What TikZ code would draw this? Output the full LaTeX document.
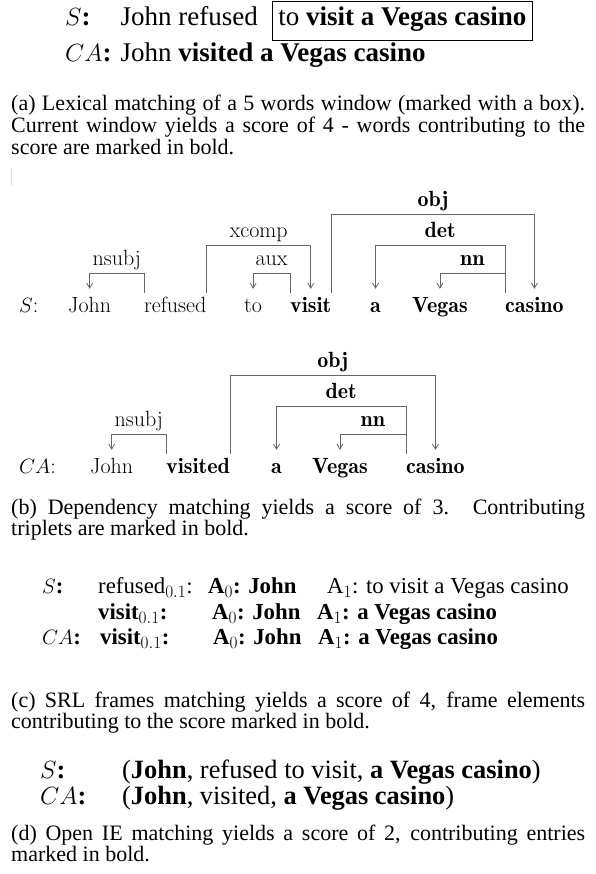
\documentclass[tikz,border=0pt]{standalone}
\usepackage{amsmath}
\usepackage[no-math]{fontspec}
\setmainfont{Liberation Serif}
\usetikzlibrary{arrows.meta,positioning}
\newcommand{\cmwords}{\fontfamily{lmr}\selectfont}
\newcommand{\nohyph}{\hyphenpenalty=10000\relax}

\begin{document}
\begin{tikzpicture}[x=1pt,y=1pt,
  big/.style={font=\fontsize{26.4pt}{31pt}\selectfont,anchor=base west,inner sep=0pt},
  txt/.style={font=\fontsize{22.8pt}{26pt}\selectfont,anchor=base west,inner sep=0pt},
  capt/.style={font=\fontsize{22pt}{21.6pt}\selectfont\nohyph,anchor=base west,inner sep=0pt,text width=574pt,align=justify},
  word/.style={font=\fontsize{22pt}{26pt}\cmwords,anchor=base west,inner xsep=0pt,inner ysep=0pt,text height=19pt,text depth=0pt},
  rel/.style={font=\fontsize{22pt}{26pt}\cmwords,anchor=base,inner sep=0pt,yshift=8pt},
  dep/.style={draw=black!60,line width=0.8pt,-{Straight Barb[length=5pt,width=6pt]},shorten >=4pt}]
\useasboundingbox (0,0) rectangle (596,-874);

\node[big,font=\fontsize{27pt}{31pt}\selectfont] (s1) at (65,-26) {$S$\textbf{:}\hspace{30pt}John refused};
\node[big,font=\fontsize{27pt}{31pt}\selectfont,draw,line width=0.7pt,inner xsep=6pt,inner ysep=8pt,text height=17pt,text depth=6pt] (win) at (272,-26) {to \textbf{visit a Vegas casino}};
\node[big,font=\fontsize{27pt}{31pt}\selectfont] (ca1) at (65,-62) {$CA$\textbf{:} John \textbf{visited a Vegas casino}};
\node[capt] (capa) at (11,-111) {(a) Lexical matching of a 5 words window (marked with a box). Current window yields a score of 4 - words contributing to the score are marked in bold.};
\draw[black!12,line width=0.6pt] (11,-168) -- (11,-186);

\path
(19,-312)  node[word] (stag) {$S$:}
(68,-312)  node[word] (sjohn) {John}
(144,-312) node[word] (srefused) {refused}
(244,-312) node[word] (sto) {to}
(290,-312) node[word] (svisit) {\textbf{visit}}
(370,-312) node[word] (sa) {\textbf{a}}
(412,-312) node[word] (svegas) {\textbf{Vegas}}
(505,-312) node[word] (scasino) {\textbf{casino}};

\draw[dep] (srefused.north west) -- ++(0,19) -| node[rel,pos=.25] {nsubj} (sjohn.north);
\draw[dep] (srefused.north east) -- ++(0,47) -| node[rel,pos=.25] {xcomp} (svisit.north);
\draw[dep] (svisit.north west) -- ++(0,19) -| node[rel,pos=.25] {aux} (sto.north);
\draw[dep] (svisit.north east) -- ++(0,78) -| node[rel,pos=.25] {\textbf{obj}} (scasino.north);
\draw[dep] (scasino.north west) -- ++(0,47) -| node[rel,pos=.25] {\textbf{det}} (sa.north);
\draw[dep] (scasino.north west) -- ++(0,19) -| node[rel,pos=.25] {\textbf{nn}} (svegas.north);

\path
(19,-473)  node[word] (ctag) {$CA$:}
(90,-473)  node[word] (cjohn) {John}
(166,-473) node[word] (cvisited) {\textbf{visited}}
(271,-473) node[word] (ca) {\textbf{a}}
(312,-473) node[word] (cvegas) {\textbf{Vegas}}
(406,-473) node[word] (ccasino) {\textbf{casino}};

\draw[dep] (cvisited.north west) -- ++(0,19) -| node[rel,pos=.25] {nsubj} (cjohn.north);
\draw[dep] (cvisited.north east) -- ++(0,78) -| node[rel,pos=.25] {\textbf{obj}} (ccasino.north);
\draw[dep] (ccasino.north west) -- ++(0,47) -| node[rel,pos=.25] {\textbf{det}} (ca.north);
\draw[dep] (ccasino.north west) -- ++(0,19) -| node[rel,pos=.25] {\textbf{nn}} (cvegas.north);

\node[capt] (capb) at (11,-514) {(b) Dependency matching yields a score of 3.  Contributing\linebreak triplets are marked in bold.};

\node[txt] (rs) at (42,-593) {$S$\textbf{:}};
\node[txt] (rp1) at (98,-593) {refused$_{0.1}$:};
\node[txt] (ra01) at (208,-593) {\textbf{A}$_0$\textbf{: John}};
\node[txt] (ra11) at (327,-593) {A$_1$: to visit a Vegas casino};
\node[txt] (rp2) at (98,-619) {\textbf{visit}$_{0.1}$\textbf{:}};
\node[txt] (ra02) at (212,-619) {\textbf{A}$_0$\textbf{: John}};
\node[txt] (ra12) at (317,-619) {\textbf{A}$_1$\textbf{: a Vegas casino}};
\node[txt] (rca) at (42,-644) {$CA$\textbf{:}};
\node[txt] (rp3) at (100,-644) {\textbf{visit}$_{0.1}$\textbf{:}};
\node[txt] (ra03) at (213,-644) {\textbf{A}$_0$\textbf{: John}};
\node[txt] (ra13) at (318,-644) {\textbf{A}$_1$\textbf{: a Vegas casino}};

\node[capt] (capc) at (11,-707) {(c) SRL frames matching yields a score of 4, frame elements contributing to the score marked in bold.};

\node[big] (os) at (40,-778) {$S$\textbf{:}};
\node[big] (ot1) at (122,-778) {(\textbf{John}, refused to visit, \textbf{a Vegas casino})};
\node[big] (oca) at (40,-804) {$CA$\textbf{:}};
\node[big] (ot2) at (122,-804) {(\textbf{John}, visited, \textbf{a Vegas casino})};

\node[capt] (capd) at (11,-840) {(d) Open IE matching yields a score of 2, contributing entries marked in bold.};
\end{tikzpicture}
\end{document}
